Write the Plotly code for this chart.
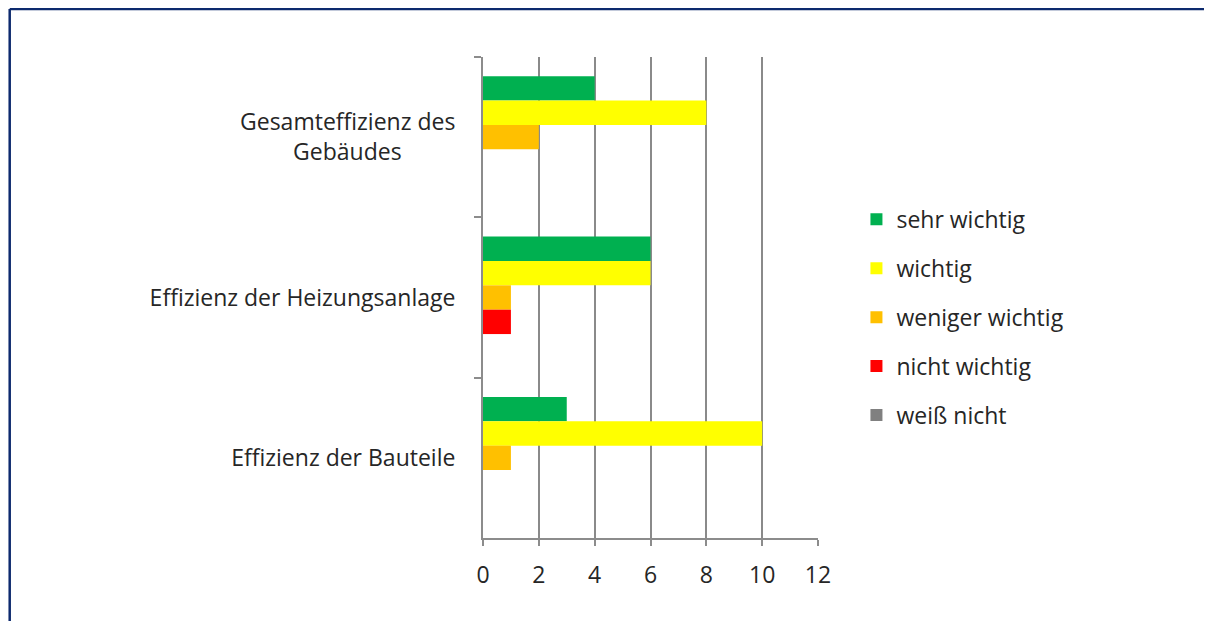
import plotly.graph_objects as go

categories = ["Gesamteffizienz des<br>Gebäudes&nbsp;&nbsp;&nbsp;&nbsp;&nbsp;&nbsp;&nbsp;&nbsp;&nbsp;",
              "Effizienz der Heizungsanlage",
              "Effizienz der Bauteile"]
series_names = ["sehr wichtig", "wichtig", "weniger wichtig", "nicht wichtig", "weiß nicht"]
sehr_wichtig = [4, 6, 3]
wichtig = [8, 6, 10]
weniger_wichtig = [2, 1, 1]
nicht_wichtig = [0, 1, 0]
weiss_nicht = [0, 0, 0]
colors = ["#00b050", "#ffff00", "#ffc000", "#ff0000", "#808080"]
x_ticks = [0, 2, 4, 6, 8, 10, 12]

values = [sehr_wichtig, wichtig, weniger_wichtig, nicht_wichtig, weiss_nicht]

FONT = "Open Sans"
FS = 23
TXT = "#262626"

fig = go.Figure()
for name, vals, col in zip(series_names, values, colors):
    fig.add_trace(go.Bar(
        y=categories, x=vals, name=name, orientation="h",
        marker=dict(color=col, line=dict(width=0)),
        legendgroup=name,
    ))

# page has 8px body margin -> figure coordinates = page coordinates - 8
W, H = 1204, 613
left, right, top, bottom = 475, 810.5, 49, 530.3
pw, ph = right - left, bottom - top

border = dict(color="#0d2a6e", width=2.5)

fig.update_layout(
    width=W, height=H,
    margin=dict(l=left, r=W - right, t=top, b=H - bottom, autoexpand=False),
    paper_bgcolor="white", plot_bgcolor="white",
    barmode="group", bargap=0.24, bargroupgap=0,
    font=dict(family=FONT, size=FS, color=TXT),
    showlegend=True,
    legend=dict(
        x=(849 - left) / pw, xanchor="left",
        y=(bottom - 190) / ph, yanchor="top",
        font=dict(family=FONT, size=FS, color=TXT),
        tracegroupgap=16, bgcolor="rgba(0,0,0,0)",
    ),
    xaxis=dict(
        range=[0, 12], tickvals=x_ticks, ticktext=[str(v) for v in x_ticks],
        showgrid=True, gridcolor="#8a8a8a", gridwidth=2,
        zeroline=False,
        showline=True, linecolor="#8c8c8c", linewidth=2,
        ticks="outside", ticklen=6, tickwidth=2, tickcolor="#8c8c8c",
        tickfont=dict(family=FONT, size=FS, color=TXT),
        ticklabelstandoff=9,
        fixedrange=True,
    ),
    yaxis=dict(
        autorange="reversed", type="category",
        showgrid=False, zeroline=False,
        showline=True, linecolor="#8c8c8c", linewidth=2,
        ticks="outside", tickson="boundaries", ticklen=7, tickwidth=2, tickcolor="#8c8c8c",
        tickfont=dict(family=FONT, size=FS, color=TXT),
        ticklabelstandoff=21,
        fixedrange=True,
    ),
    shapes=[
        dict(type="line", xref="paper", yref="paper",
             x0=(1 - left) / pw, x1=(W + 20 - left) / pw,
             y0=(bottom - 1) / ph, y1=(bottom - 1) / ph,
             line=border, layer="above"),
        dict(type="line", xref="paper", yref="paper",
             x0=(1 - left) / pw, x1=(1 - left) / pw,
             y0=(bottom - 1) / ph, y1=(bottom - H - 20) / ph,
             line=border, layer="above"),
    ],
)

fig.write_html("out.html")
